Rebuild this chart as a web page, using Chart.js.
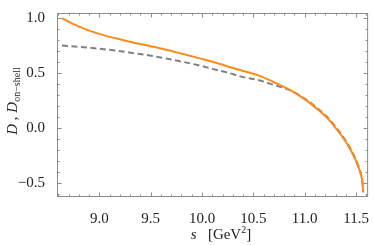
<!DOCTYPE html>
<html><head><meta charset="utf-8">
<script src="https://cdn.jsdelivr.net/npm/chart.js@4/dist/chart.umd.min.js"></script>
<style>html,body{margin:0;padding:0;background:#fff}#wrap{width:374px;height:245px}</style>
</head><body><div id="wrap"><canvas id="c" width="374" height="245"></canvas></div>
<script>
const sOrange = [8.636,8.758,8.887,9.048,9.210,9.386,9.580,9.773,9.966,10.111,10.256,10.401,10.546,10.691,10.868,11.029,11.126,11.222,11.290,11.351,11.386,11.435,11.480,11.502,11.528,11.541,11.551,11.560,11.570];
const dOrange = [1.000,0.940,0.890,0.842,0.804,0.765,0.728,0.683,0.635,0.600,0.557,0.518,0.478,0.420,0.339,0.241,0.168,0.086,0.012,-0.061,-0.109,-0.182,-0.262,-0.307,-0.370,-0.408,-0.440,-0.483,-0.587];
const sGray = [8.636,9.000,9.290,9.580,9.773,9.966,10.111,10.256,10.401,10.546,10.691,10.868,11.029,11.126,11.222,11.290,11.351,11.386,11.435,11.480,11.502,11.528,11.541,11.551,11.560,11.570];
const dGray = [0.749,0.721,0.687,0.644,0.609,0.570,0.535,0.501,0.462,0.436,0.393,0.337,0.247,0.176,0.096,0.022,-0.051,-0.099,-0.172,-0.253,-0.298,-0.362,-0.399,-0.431,-0.474,-0.587];
const xTicks = [9.0,9.5,10.0,10.5,11.0,11.5];
const yTicks = [-0.5,0.0,0.5,1.0];
const xMinor = [8.6,8.7,8.8,8.9,9.1,9.2,9.3,9.4,9.6,9.7,9.8,9.9,10.1,10.2,10.3,10.4,10.6,10.7,10.8,10.9,11.1,11.2,11.3,11.4,11.6];
const yMinor = [-0.6,-0.4,-0.3,-0.2,-0.1,0.1,0.2,0.3,0.4,0.6,0.7,0.8,0.9];

const pts = (xs, ys) => xs.map((x,i)=>({x:x,y:ys[i]}));
const fmt = v => v.toFixed(1).replace('-', '\u2212');
const FRAME = '#8c8c8c';
const SERIF = '"Liberation Serif", "Times New Roman", Times, serif';

const framePlugin = {
  id:'frame',
  afterDraw(chart){
    const {ctx, chartArea:a, scales:{x,y}} = chart;
    ctx.save();
    ctx.strokeStyle = FRAME; ctx.lineWidth = 1;
    ctx.strokeRect(a.left+0.5, a.top+0.5, a.right-a.left-1, a.bottom-a.top-1);
    ctx.beginPath();
    const tx = (v,len)=>{const p=Math.round(x.getPixelForValue(v))+0.5; ctx.moveTo(p,a.bottom); ctx.lineTo(p,a.bottom-len); ctx.moveTo(p,a.top); ctx.lineTo(p,a.top+len);};
    const ty = (v,len)=>{const p=Math.round(y.getPixelForValue(v))+0.5; ctx.moveTo(a.left,p); ctx.lineTo(a.left+len,p); ctx.moveTo(a.right,p); ctx.lineTo(a.right-len,p);};
    xTicks.forEach(v=>tx(v,4.5)); xMinor.forEach(v=>tx(v,2.5));
    yTicks.forEach(v=>ty(v,4.5)); yMinor.forEach(v=>ty(v,2.5));
    ctx.stroke();
    ctx.fillStyle = '#222';
    ctx.textBaseline = 'alphabetic';
    ctx.textAlign = 'left';
    const parts = [['italic 15px '+SERIF,'s',0],['15px '+SERIF,'   [GeV',0],['10px '+SERIF,'2',-6],['15px '+SERIF,']',0]];
    let w = 0; parts.forEach(p=>{ctx.font=p[0]; w+=ctx.measureText(p[1]).width;});
    let cx = 221 - w/2;
    parts.forEach(p=>{ctx.font=p[0]; ctx.fillText(p[1],cx,239+p[2]); cx+=ctx.measureText(p[1]).width;});
    ctx.translate(17, 101); ctx.rotate(-Math.PI/2);
    const yp = [['italic 15px '+SERIF,'D',0],['15px '+SERIF,' , ',0],['italic 15px '+SERIF,'D',0],['10px '+SERIF,'on\u2212shell',3]];
    w = 0; yp.forEach(p=>{ctx.font=p[0]; w+=ctx.measureText(p[1]).width;});
    cx = -w/2;
    yp.forEach(p=>{ctx.font=p[0]; ctx.fillText(p[1],cx,p[2]); cx+=ctx.measureText(p[1]).width;});
    ctx.restore();
  }
};

new Chart(document.getElementById('c'), {
  type:'line',
  data:{datasets:[
    {label:'D', data:pts(sOrange,dOrange), borderColor:'rgb(255,138,28)', borderWidth:2, pointRadius:0, cubicInterpolationMode:'monotone', fill:false},
    {label:'D on-shell', data:pts(sGray,dGray), borderColor:'rgb(128,128,128)', borderWidth:2, borderDash:[6,3.5], pointRadius:0, cubicInterpolationMode:'monotone', fill:false}
  ]},
  options:{
    responsive:false, animation:false,
    layout:{padding:{top:3,right:3,left:0,bottom:0}},
    plugins:{legend:{display:false}, tooltip:{enabled:false}},
    scales:{
      x:{type:'linear', min:8.5875, max:11.6175,
        afterFit(s){s.height=48;},
        afterBuildTicks(s){s.ticks = xTicks.map(v=>({value:v}));},
        grid:{display:false}, border:{display:false},
        ticks:{callback:v=>fmt(v), color:'#222', font:{family:SERIF, size:15}, padding:5, maxRotation:0, autoSkip:false}},
      y:{type:'linear', min:-0.63, max:1.046,
        afterFit(s){s.width=57;},
        afterBuildTicks(s){s.ticks = yTicks.map(v=>({value:v}));},
        grid:{display:false}, border:{display:false},
        ticks:{callback:v=>fmt(v), color:'#222', font:{family:SERIF, size:15}, padding:4}}
    }
  },
  plugins:[framePlugin]
});
</script></body></html>
